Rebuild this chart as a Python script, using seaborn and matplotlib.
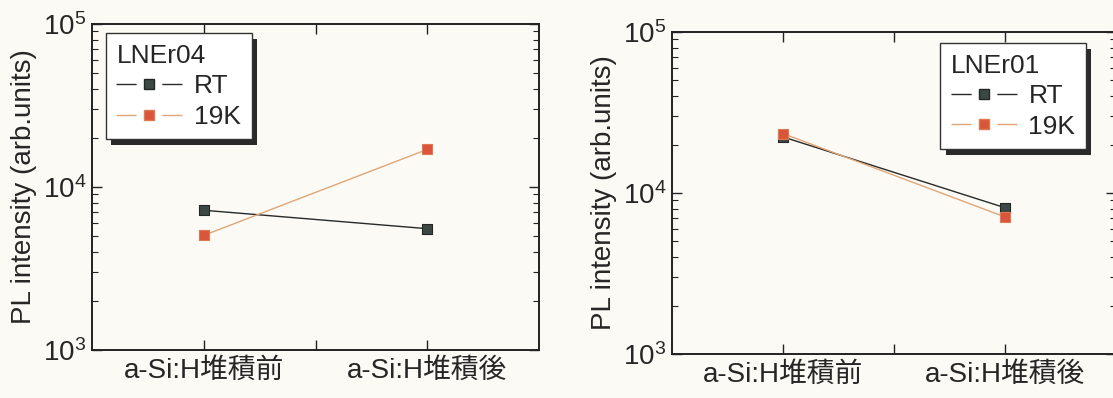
import numpy as np
import pandas as pd
import matplotlib
matplotlib.use("Agg")
import matplotlib.pyplot as plt
import matplotlib.patheffects as pe
from matplotlib.lines import Line2D
from matplotlib.ticker import LogLocator, FixedLocator, NullFormatter
import seaborn as sns

# ---- data ----
categories = ["a-Si:H堆積前", "a-Si:H堆積後"]
series_names = ["RT", "19K"]
lner04_rt = [7200, 5550]
lner04_19k = [5050, 17000]
lner01_rt = [22300, 8100]
lner01_19k = [23400, 7100]
panel_titles = ["LNEr04", "LNEr01"]
ylabel = "PL intensity (arb.units)"

sns.set_theme(style="ticks")
plt.rcParams["font.family"] = ["Liberation Sans", "Noto Sans CJK JP"]
plt.rcParams["mathtext.default"] = "regular"

BG = "#fbfaf5"
line_colors = {"RT": "#262a28", "19K": "#e0a678"}
marker_colors = {"RT": "#3b4843", "19K": "#d9553c"}
marker_edges = {"RT": "#222624", "19K": "#e07850"}

fig = plt.figure(figsize=(11.13, 3.98), dpi=100, facecolor=BG)
ax_left = fig.add_axes([92 / 1113, 1 - 350 / 398, 447 / 1113, 326 / 398])
ax_right = fig.add_axes([672 / 1113, 1 - 354 / 398, 444 / 1113, 322 / 398])

panels = [
    (ax_left, lner04_rt, lner04_19k, panel_titles[0], (0.031, 0.972), "upper left"),
    (ax_right, lner01_rt, lner01_19k, panel_titles[1], (0.932, 0.966), "upper right"),
]

for ax, rt, k19, title, anchor, loc in panels:
    ax.set_facecolor(BG)
    df = pd.DataFrame({
        "pos": [0, 1, 0, 1],
        "value": rt + k19,
        "series": ["RT", "RT", "19K", "19K"],
    })
    sns.lineplot(data=df, x="pos", y="value", hue="series",
                 palette=line_colors, linewidth=1.0, legend=False, ax=ax,
                 sort=False)
    for name in series_names:
        sub = df[df["series"] == name]
        sns.scatterplot(data=sub, x="pos", y="value", marker="s", s=48,
                        color=marker_colors[name], edgecolor=marker_edges[name],
                        linewidth=0.8, legend=False, ax=ax, zorder=5)
    ax.set_yscale("log")
    ax.set_ylim(1e3, 1e5)
    ax.set_xlim(-0.5, 1.5)
    ax.xaxis.set_major_locator(FixedLocator([0, 0.5, 1]))
    ax.set_xticklabels([categories[0], "", categories[1]])
    ax.yaxis.set_major_locator(LogLocator(base=10, numticks=5))
    ax.yaxis.set_minor_locator(LogLocator(base=10, subs=np.arange(2, 10), numticks=20))
    ax.yaxis.set_minor_formatter(NullFormatter())
    ax.tick_params(axis="both", which="major", direction="in", length=7, width=1.0,
                   top=True, right=True, labelsize=20, color="#222222", pad=4)
    ax.tick_params(axis="y", which="minor", direction="in", length=4, width=0.8,
                   right=True, left=True, color="#222222")
    ax.tick_params(axis="x", which="major", labelsize=20, pad=6)
    ax.set_xlabel("")
    ax.set_ylabel(ylabel, fontsize=20, labelpad=4)
    for sp in ax.spines.values():
        sp.set_linewidth(1.4)
        sp.set_color("#222222")

    handles = [
        Line2D([], [], color=line_colors[n], lw=1.0,
               linestyle=(0, (14.5, 18.5, 14.5, 60)),
               marker="s", markersize=7,
               markerfacecolor=marker_colors[n], markeredgecolor=marker_edges[n])
        for n in series_names
    ]
    leg = ax.legend(handles, series_names, title=title, loc=loc,
                    bbox_to_anchor=anchor, fontsize=19, title_fontsize=19,
                    frameon=True, fancybox=False, framealpha=1,
                    edgecolor="#333333", facecolor="white",
                    handlelength=2.5, handletextpad=0.45, labelspacing=0.25,
                    borderpad=0.4, borderaxespad=0, alignment="left")
    frame = leg.get_frame()
    frame.set_linewidth(1.0)
    frame.set_path_effects([
        pe.SimplePatchShadow(offset=(4, -4), shadow_rgbFace="#2a2a2a", alpha=1.0),
        pe.Normal(),
    ])

fig.savefig("out.png", dpi=100, facecolor=BG)
